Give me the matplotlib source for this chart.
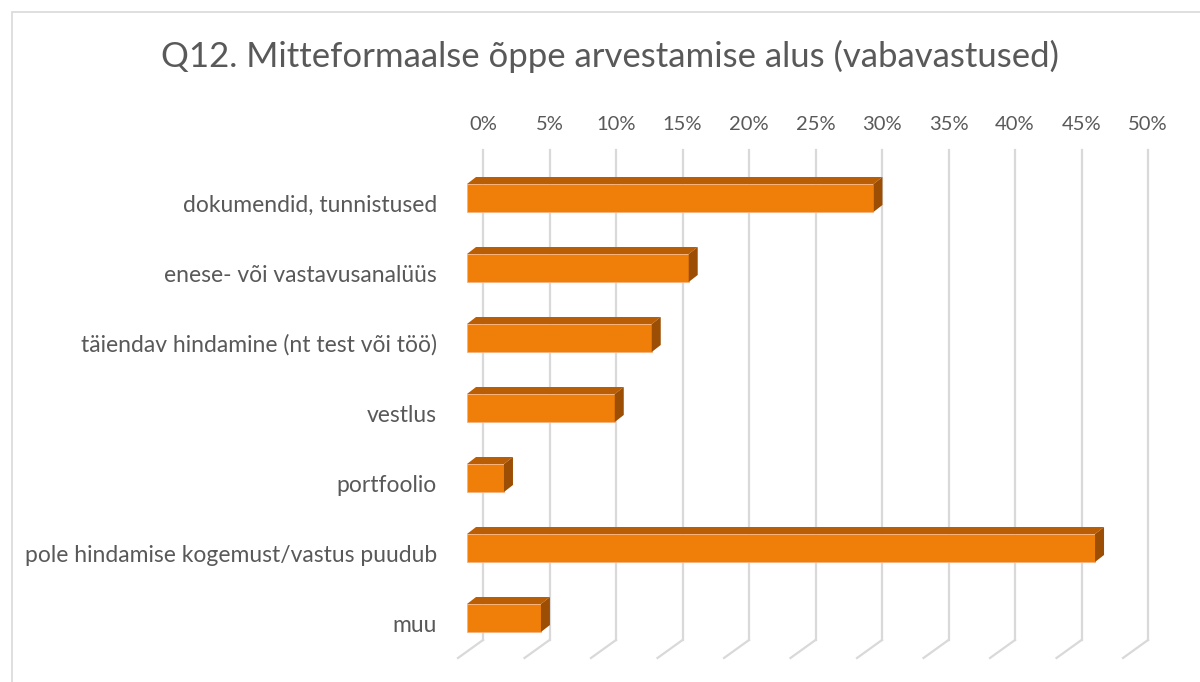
import matplotlib.pyplot as plt
from matplotlib.patches import Polygon, Rectangle

# data (share of answers, %)
categories = ['dokumendid, tunnistused',
              'enese- või vastavusanalüüs',
              'täiendav hindamine (nt test või töö)',
              'vestlus',
              'portfoolio',
              'pole hindamise kogemust/vastus puudub',
              'muu']
values = [30.56, 16.67, 13.89, 11.11, 2.78, 47.22, 5.56]
ticks = [0, 5, 10, 15, 20, 25, 30, 35, 40, 45, 50]
title = 'Q12. Mitteformaalse õppe arvestamise alus (vabavastused)'

front = '#F07F09'
top_c = '#BA5E05'
side_c = '#9C4F04'
grid_c = '#D9D9D9'
text_c = '#595959'

plt.rcParams['font.family'] = ['Lato', 'DejaVu Sans']

W, H = 1200, 682
fig = plt.figure(figsize=(W / 100, H / 100), dpi=100)
ax = fig.add_axes([0, 0, 1, 1])
ax.axis('off')

# pixel layout -> data limits (x in %, y in category index)
x0_px, px_per_pct = 467, 13.3
y0_px, px_per_cat = 198, 70
ax.set_xlim(-x0_px / px_per_pct, (W - x0_px) / px_per_pct)
ax.set_ylim((H - y0_px) / px_per_cat, -y0_px / px_per_cat)

# 3D depth offsets
bar_dx, bar_dy = 9 / px_per_pct, -7 / px_per_cat
back_dx, front_dx = 16 / px_per_pct, -9 / px_per_pct
floor_back_y, floor_front_y = (640 - y0_px) / px_per_cat, (658 - y0_px) / px_per_cat
wall_top_y = (150 - y0_px) / px_per_cat
label_y = (124 - y0_px) / px_per_cat

# back wall gridlines + floor lines
for t in ticks:
    ax.plot([t + back_dx, t + back_dx], [wall_top_y, floor_back_y], color=grid_c, lw=1.6, zorder=1)
    ax.plot([t + back_dx, t + front_dx], [floor_back_y, floor_front_y], color=grid_c, lw=1.6, zorder=1)
    ax.text(t + back_dx, label_y, f'{t}%', ha='center', va='center', fontsize=14.5, color=text_c)

# bars
hgt = 28 / px_per_cat
for i, (cat, v) in enumerate(zip(categories, values)):
    ax.barh(i, v, height=hgt, left=0, color=front, edgecolor='#F7B27A', lw=0.6, zorder=3)
    top = i - hgt / 2
    bot = i + hgt / 2
    ax.add_patch(Polygon([(0, top), (v, top), (v + bar_dx, top + bar_dy), (bar_dx, top + bar_dy)],
                         closed=True, facecolor=top_c, edgecolor='none', zorder=3))
    ax.add_patch(Polygon([(v, top), (v + bar_dx, top + bar_dy), (v + bar_dx, bot + bar_dy), (v, bot)],
                         closed=True, facecolor=side_c, edgecolor='none', zorder=3))
    ax.text(-30 / px_per_pct, i + 0.1, cat, ha='right', va='center',
            fontsize=16.5, color=text_c)

fig.text(610 / W, 1 - 56 / H, title, ha='center', va='center', fontsize=25, color=text_c)

# chart border
fig.patches.append(Rectangle((12 / W, -0.05), 1.2, 1 - 12 / H + 0.05, transform=fig.transFigure,
                             fill=False, edgecolor='#D9D9D9', lw=1.2))

fig.savefig('out.png', dpi=100)
